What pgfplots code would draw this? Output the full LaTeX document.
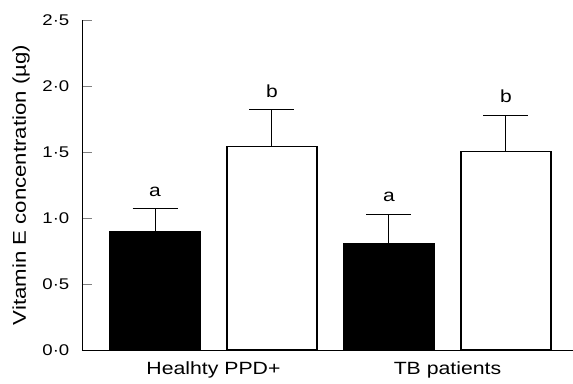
\documentclass[border=0pt]{standalone}
\usepackage{fontspec}
\setmainfont{Liberation Sans}[FakeStretch=1.2]
\usepackage{pgfplots}
\pgfplotsset{compat=1.18}
\begin{document}
\begin{tikzpicture}
\useasboundingbox (-82pt,-33pt) rectangle (491pt,350pt);
\begin{axis}[
  at={(0pt,0pt)}, anchor=south west,
  scale only axis, width=491pt, height=330pt,
  xmin=-0.624, xmax=3.573, ymin=0, ymax=2.5,
  axis x line*=bottom, axis y line*=left,
  axis line style={line width=0.9pt},
  ytick={0,0.5,1,1.5,2,2.5},
  yticklabels={0·0,0·5,1·0,1·5,2·0,2·5},
  xtick={0.5,2.5},
  xticklabels={Healhty PPD+,TB patients},
  major x tick style={draw=none},
  major y tick style={line width=0.9pt},
  major tick length=10pt,
  tick align=inside,
  y tick label style={font=\fontsize{15.5}{18}\selectfont, anchor=east, inner sep=0pt, xshift=-12.5pt},
  x tick label style={font=\fontsize{17.7}{20}\selectfont, anchor=base, inner sep=0pt, yshift=-24.3pt},
  ylabel={Vitamin E concentration (µg)},
  every axis y label/.style={at={([xshift=-61pt]axis description cs:0,0.5)}, rotate=90, anchor=center, inner sep=0pt, font=\fontsize{18.5}{21}\selectfont},
  /pgf/number format/assume math mode=true,
  clip=false,
]
\addplot[ybar, bar width=0.77, bar shift=0pt, fill=black, draw=black, line width=1pt,
  error bars/.cd, y dir=plus, y explicit,
  error bar style={line width=1pt, black},
  error mark options={rotate=90, line width=1pt, mark size=22.5pt, black}]
  coordinates {(0,0.90) +- (0,0.17) (2,0.81) +- (0,0.22)};
\addplot[ybar, bar width=0.77, bar shift=0pt, fill=white, draw=black, line width=1.3pt,
  error bars/.cd, y dir=plus, y explicit,
  error bar style={line width=1pt, black},
  error mark options={rotate=90, line width=1pt, mark size=22.5pt, black}]
  coordinates {(1,1.54) +- (0,0.28) (3,1.505) +- (0,0.275)};
\addplot[only marks, mark=none, nodes near coords, point meta=explicit symbolic,
  nodes near coords style={anchor=base, inner sep=0pt, yshift=12.5pt, font=\fontsize{17.5}{20}\selectfont}]
  coordinates {(0,1.07)[a] (1,1.82)[b] (2,1.03)[a] (3,1.78)[b]};
\end{axis}
\end{tikzpicture}
\end{document}
